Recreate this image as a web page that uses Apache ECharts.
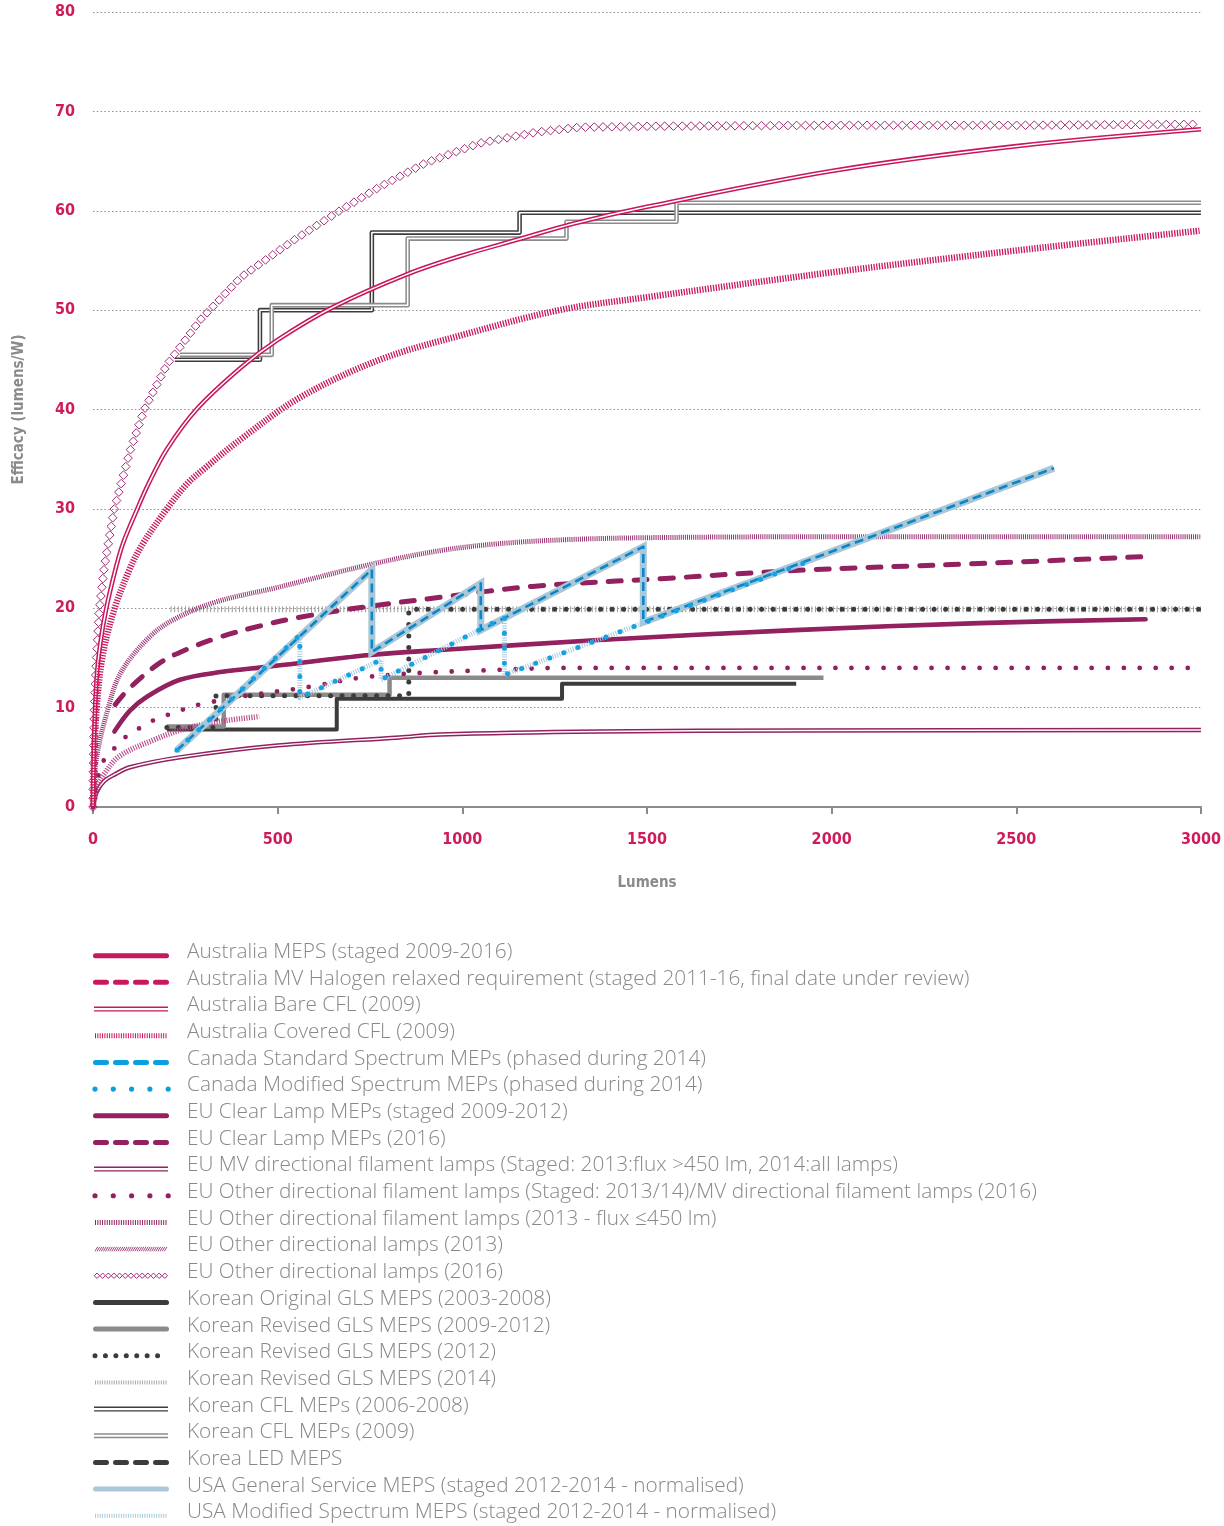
<!DOCTYPE html>
<html><head><meta charset="utf-8">
<script src="https://cdn.jsdelivr.net/npm/echarts@6.0.0/dist/echarts.min.js"></script>
<style>html,body{margin:0;padding:0;background:#fff}#c{width:1224px;height:1526px}</style>
</head><body><div id="c"></div>
<script>
// ---------- DATA (lumens, efficacy lm/W) ----------
const bareCFL = [[0,0],[3,7],[10,13],[20,16.5],[35,19.8],[60,23.8],[81,26.5],[120,30],[150,32.5],[200,36],[280,40],[400,44.2],[500,47],[650,50.3],[850,53.6],[1000,55.5],[1150,57.1],[1300,58.7],[1500,60.4],[2000,64],[2500,66.5],[3000,68.2]];
const coveredCFL = [[0,0],[3,5],[10,10],[25,15],[57,19.8],[100,24],[135,26.5],[200,30],[254,32.5],[300,34],[400,37],[560,41.2],[776,45],[1000,47.5],[1263,50],[1500,51.3],[2000,53.8],[2500,56],[3000,58]];
const euDir2016 = [[0,0],[3,9],[8,14],[17,19.8],[30,24],[57,29.9],[100,35.8],[139,40],[200,44.5],[290,49],[400,53.3],[542,57],[668,60],[776,62.4],[900,64.8],[1047,66.8],[1200,67.9],[1317,68.4],[1500,68.5],[2000,68.6],[2500,68.6],[3000,68.7]];
const euDir2013 = [[0,0],[10,5],[40,9.8],[75,13.5],[150,17],[216,18.8],[330,20.6],[500,22.1],[750,24.4],[940,25.8],[1100,26.5],[1280,26.9],[1500,27.1],[2000,27.2],[3000,27.2]];
const euFil450 = [[0,0],[10,2],[30,3.3],[71,5.1],[161,6.7],[251,7.9],[342,8.6],[450,9.1]];
const euMV = [[0,0],[10,1.5],[30,2.6],[60,3.3],[100,4],[235,5],[500,6.2],[830,7],[940,7.3],[1370,7.6],[1910,7.7],[3000,7.75]];
const euFilStaged = [[0,0],[22,4.2],[49,5.5],[80,6.8],[116,7.7],[157,8.6],[197,9.2],[243,9.8],[287,10.3],[400,11.1],[587,12.1],[722,13],[893,13.5],[1100,13.8],[1281,14],[2000,14],[3000,14]];
const euClearStaged = [[58,7.6],[100,9.7],[146,11.1],[235,12.8],[350,13.6],[470,14.1],[750,15.3],[940,15.8],[1370,16.8],[1900,17.8],[2400,18.5],[2850,18.9]];
const euClear2016 = [[60,10.3],[100,12],[181,14.5],[250,15.8],[343,17.1],[450,18.2],[560,19.1],[730,20.1],[940,21.1],[1190,22.2],[1550,23],[1900,23.8],[2400,24.5],[2850,25.2]];
// Australian MEPS lines coincide with (and sit under) the EU clear-lamp lines
const ausMEPS = euClearStaged;
const ausHalogen = euClear2016;
// Korean step functions: each point starts a new level
const krOriginal = [[200,7.8],[660,10.9],[1270,12.4],[1904,12.4]];
const krRevised0912 = [[200,8.1],[354,11.3],[803,13],[1978,13]];
const krRevised2012 = [[200,8],[333,11.2],[855,19.9],[3000,19.9]];
const krRevised2014 = [[210,19.9],[3000,19.9]];
const krCFL0608 = [[222,45],[452,50],[755,57.8],[1155,59.8],[3000,59.8]];
const krCFL2009 = [[235,45.5],[484,50.5],[852,57.2],[1282,58.9],[1580,60.8],[3000,60.8]];
// North American sawtooth requirements
const usaGeneral = [[227,5.7],[755,23.9],[755,15.6],[1050,22.5],[1050,17.8],[1490,26.2],[1490,18.6],[2602,34.1]];
const canadaStd = usaGeneral;
const usaModified = [[227,5.7],[560,17.3],[560,11],[780,14.8],[780,12.8],[1114,19.1],[1114,13.3],[1950,24.9]];
const canadaMod = usaModified;

const legendLabels = [
 'Australia MEPS (staged 2009-2016)',
 'Australia MV Halogen relaxed requirement (staged 2011-16, final date under review)',
 'Australia Bare CFL (2009)',
 'Australia Covered CFL (2009)',
 'Canada Standard Spectrum MEPs (phased during 2014)',
 'Canada Modified Spectrum MEPs (phased during 2014)',
 'EU Clear Lamp MEPs (staged 2009-2012)',
 'EU Clear Lamp MEPs (2016)',
 'EU MV directional filament lamps (Staged: 2013:flux >450 lm, 2014:all lamps)',
 'EU Other directional filament lamps (Staged: 2013/14)/MV directional filament lamps (2016)',
 'EU Other directional filament lamps (2013 - flux \u2264450 lm)',
 'EU Other directional lamps (2013)',
 'EU Other directional lamps (2016)',
 'Korean Original GLS MEPS (2003-2008)',
 'Korean Revised GLS MEPS (2009-2012)',
 'Korean Revised GLS MEPS (2012)',
 'Korean Revised GLS MEPS (2014)',
 'Korean CFL MEPs (2006-2008)',
 'Korean CFL MEPs (2009)',
 'Korea LED MEPS',
 'USA General Service MEPS (staged 2012-2014 - normalised)',
 'USA Modified Spectrum MEPS (staged 2012-2014 - normalised)'
];

// ---------- STYLE ----------
const C = {
  crimson:'#c8175d', purple:'#93205f', slant:'#97306f', diamond:'#a02c74', pinkHatch:'#b8488a',
  dark:'#3c3c3c', gray:'#8b8b8b', hatchGray:'#999999', blueDash:'#0b86c8', blueDot:'#14a2e2',
  lightBlue:'#a9c7d7', lightBlueHatch:'#a6c9de', legendBlue:'#0aa0e0'
};
const legendStyles = [
 ['solid',C.crimson],['dash',C.crimson],['double',C.crimson],['hatch',C.crimson],
 ['dash',C.legendBlue],['dots',C.legendBlue],['solid',C.purple],['dash',C.purple],
 ['double',C.purple],['dots',C.purple],['hatch',C.purple],['slant',C.slant],['diamonds',C.diamond],
 ['solid',C.dark],['solid',C.gray],['dots8',C.dark],['hatchThin','#a8a8a8'],
 ['double',C.dark],['double',C.gray],['dash',C.dark],['solid','#abc8d8'],['hatchThin',C.lightBlueHatch]
];
const condensed = "'Liberation Sans Narrow','DejaVu Sans Condensed','Roboto Condensed','Roboto',sans-serif";

function L(name, data, color, width, opts) {
  const o = Object.assign({type:'line', name, data, showSymbol:false, symbol:'none', silent:true,
    animation:false, lineStyle:{color, width, cap:'butt', join:'round'}}, opts || {});
  if (opts && opts.ls) { Object.assign(o.lineStyle, opts.ls); delete o.ls; }
  return o;
}
const SM = 0.35;
const series = [
  L('Korean Revised GLS MEPS (2014)', krRevised2014, C.hatchGray, 6, {step:'end', ls:{type:[1,2.6]}}),
  L('Korean Original GLS MEPS (2003-2008)', krOriginal, C.dark, 4, {step:'end'}),
  L('Korean Revised GLS MEPS (2009-2012)', krRevised0912, C.gray, 4.5, {step:'end'}),
  L('Korean Revised GLS MEPS (2012)', krRevised2012, C.dark, 5, {step:'end', ls:{type:[0,11.5], cap:'round'}}),
  L('Korean CFL MEPs (2006-2008)', krCFL0608, C.dark, 4.6, {step:'end'}),
  L('Korean CFL MEPs (2006-2008) core', krCFL0608, '#ffffff', 1.5, {step:'end'}),
  L('Korean CFL MEPs (2009)', krCFL2009, C.gray, 4.6, {step:'end'}),
  L('Korean CFL MEPs (2009) core', krCFL2009, '#ffffff', 1.5, {step:'end'}),
  L('Australia MEPS (staged 2009-2016)', ausMEPS, C.crimson, 3.2, {smooth:SM}),
  L('Australia MV Halogen relaxed requirement', ausHalogen, C.crimson, 3.2, {smooth:SM, ls:{type:[13,13], cap:'round'}}),
  L('EU MV directional filament lamps', euMV, C.purple, 4.4, {smooth:SM}),
  L('EU MV directional filament lamps core', euMV, '#ffffff', 1.4, {smooth:SM}),
  L('EU Other directional filament lamps (2013 - flux <=450 lm)', euFil450, C.pinkHatch, 5.5, {smooth:SM, ls:{type:[1.1,1.4]}}),
  L('EU Other directional filament lamps (Staged)', euFilStaged, C.purple, 4.8, {smooth:SM, ls:{type:[0,16], cap:'round'}}),
  L('EU Clear Lamp MEPs (staged 2009-2012)', euClearStaged, C.purple, 4.6, {smooth:SM, ls:{cap:'round'}}),
  L('EU Clear Lamp MEPs (2016)', euClear2016, C.purple, 5, {smooth:SM, ls:{type:[13,13], cap:'round'}}),
  L('EU Other directional lamps (2013)', euDir2013, C.slant, 5, {smooth:SM, ls:{type:[1,1.1]}}),
  L('Australia Bare CFL (2009)', bareCFL, C.crimson, 4.6, {smooth:SM}),
  L('Australia Bare CFL (2009) core', bareCFL, '#ffffff', 1.5, {smooth:SM}),
  L('Australia Covered CFL (2009)', coveredCFL, C.crimson, 6.5, {smooth:SM, ls:{type:[1.3,1.4]}}),
  L('USA General Service MEPS', usaGeneral, C.lightBlue, 7, {ls:{join:'miter'}}),
  L('USA Modified Spectrum MEPS', usaModified, C.lightBlueHatch, 5, {ls:{type:[1,1.4]}}),
  L('Canada Standard Spectrum MEPs', canadaStd, C.blueDash, 2.6, {ls:{type:[9,5]}}),
  L('Canada Modified Spectrum MEPs', canadaMod, C.blueDot, 5, {ls:{type:[0,15], cap:'round'}}),
  {
    type:'custom', name:'EU Other directional lamps (2016)', data:euDir2016, silent:true, animation:false,
    renderItem: function (params, api) {
      if (params.dataIndex !== 0) return null;
      const pts = euDir2016.map(p => api.coord(p));
      const children = [];
      const step = 8.8, h = 4.3;
      let carry = 0;
      for (let i = 0; i < pts.length - 1; i++) {
        const x1 = pts[i][0], y1 = pts[i][1], x2 = pts[i+1][0], y2 = pts[i+1][1];
        const len = Math.hypot(x2 - x1, y2 - y1);
        let d = carry;
        while (d <= len) {
          const t = len ? d / len : 0;
          const cx = x1 + (x2 - x1) * t, cy = y1 + (y2 - y1) * t;
          children.push({type:'polygon', shape:{points:[[cx,cy-h],[cx+h,cy],[cx,cy+h],[cx-h,cy]]},
            style:{fill:'none', stroke:C.diamond, lineWidth:1}});
          d += step;
        }
        carry = d - len;
      }
      return {type:'group', children};
    }
  }
];

// ---------- LEGEND (graphic) ----------
function swatch(kind, color, y) {
  const x0 = 95, x1 = 167;
  const ln = (xa, ya, xb, yb, st) => ({type:'line', silent:true, shape:{x1:xa, y1:ya, x2:xb, y2:yb}, style:Object.assign({stroke:color, lineWidth:1}, st)});
  switch (kind) {
    case 'solid': return [ln(95.5, y, 166.5, y, {lineWidth:5, lineCap:'round'})];
    case 'dash': return [ln(95.5, y, 166.5, y, {lineWidth:5, lineCap:'round', lineDash:[11,9]})];
    case 'double': return [ln(94, y-1.8, 168, y-1.8, {lineWidth:1.4}), ln(94, y+1.8, 168, y+1.8, {lineWidth:1.4})];
    case 'hatch': return [ln(x0, y, x1, y, {lineWidth:5, lineDash:[1,1.35]})];
    case 'hatchThin': return [ln(x0, y, x1, y, {lineWidth:4, lineDash:[1,1.35]})];
    case 'dots': return [ln(95, y, 168.3, y, {lineWidth:5.2, lineCap:'round', lineDash:[0,18.3]})];
    case 'dots8': return [ln(95, y, 168, y, {lineWidth:5, lineCap:'round', lineDash:[0,10.43]})];
    case 'slant': {
      const a = [];
      for (let x = x0; x < x1 - 2; x += 2.1) a.push(ln(x, y+2.2, x+2.6, y-2.2, {lineWidth:0.9}));
      return a;
    }
    case 'diamonds': {
      const a = [];
      for (let i = 0; i < 13; i++) {
        const cx = 97 + i * 5.65, hh = 2.7;
        a.push({type:'polygon', silent:true, shape:{points:[[cx,y-hh],[cx+hh,y],[cx,y+hh],[cx-hh,y]]}, style:{fill:'none', stroke:color, lineWidth:1}});
      }
      return a;
    }
  }
  return [];
}
const graphics = [];
legendLabels.forEach((label, i) => {
  const y = 955.7 + i * 26.67;
  swatch(legendStyles[i][0], legendStyles[i][1], y).forEach(g => graphics.push(g));
  graphics.push({type:'text', silent:true, x:187, y:y - 3.5,
    style:{text:label, fill:'#888888', fontSize:20.8, fontWeight:300, fontFamily:"'Open Sans', Roboto, sans-serif", verticalAlign:'middle', align:'left'}});
});

// ---------- CHART ----------
const chart = echarts.init(document.getElementById('c'), null, {renderer:'canvas'});
chart.setOption({
  animation:false,
  backgroundColor:'#ffffff',
  grid:{left:93, right:22, top:12, bottom:719, containLabel:false},
  xAxis:{
    type:'value', min:0, max:3000, interval:500,
    name:'Lumens', nameLocation:'middle', nameGap:69,
    nameTextStyle:{color:'#8a8a8a', fontSize:15, fontWeight:'bold', fontFamily:condensed},
    axisLine:{show:true, lineStyle:{color:'#8c8c8c', width:2}},
    axisTick:{show:true, length:7, lineStyle:{color:'#8c8c8c', width:2}},
    splitLine:{show:false},
    axisLabel:{color:'#cf1b5c', fontSize:16, fontWeight:'bold', fontFamily:condensed, margin:25,
      formatter: v => String(v)}
  },
  yAxis:{
    type:'value', min:0, max:80, interval:10,
    name:'Efficacy (lumens/W)', nameLocation:'middle', nameGap:66, nameRotate:90,
    nameTextStyle:{color:'#8a8a8a', fontSize:15, fontWeight:'bold', fontFamily:condensed},
    axisLine:{show:false}, axisTick:{show:false},
    splitLine:{show:true, lineStyle:{color:'#8f8f8f', width:1.2, type:[1.5,2.3]}},
    axisLabel:{color:'#cf1b5c', fontSize:16, fontWeight:'bold', fontFamily:condensed, margin:18,
      formatter: v => String(v)}
  },
  series: series,
  graphic: graphics
});
</script>
</body></html>
